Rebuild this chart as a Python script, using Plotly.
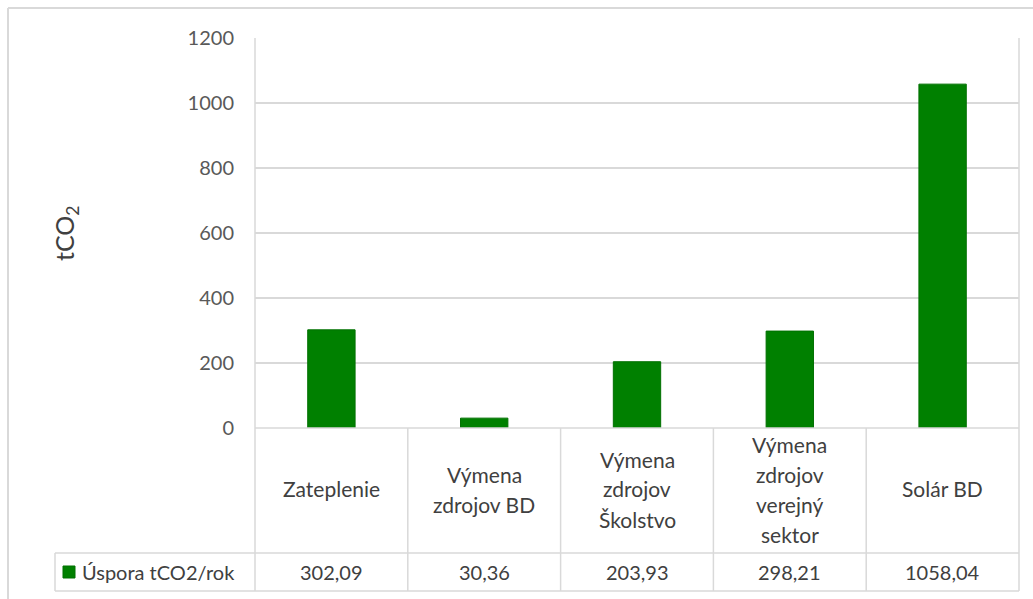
import plotly.graph_objects as go

# Data
categories = ["Zateplenie", "Výmena<br>zdrojov BD", "Výmena<br>zdrojov<br>Školstvo",
              "Výmena<br>zdrojov<br>verejný<br>sektor", "Solár BD"]
values = [302.09, 30.36, 203.93, 298.21, 1058.04]
value_labels = ["302,09", "30,36", "203,93", "298,21", "1058,04"]
series_name = "Úspora tCO2/rok"
y_ticks = [0, 200, 400, 600, 800, 1000, 1200]

BAR_COLOR = "#008000"
GRID = "#d9d9d9"
TXT = "#404040"
TICK_TXT = "#595959"
FONT = "Lato"

W, H = 1033, 599
L, R, T, B = 255, 14, 38, 171
PLOT_H = H - T - B
PLOT_W = W - L - R


def py(pix):
    """pixel row -> paper y"""
    return (H - B - pix) / PLOT_H


def px(pix):
    """pixel column -> paper x"""
    return (pix - L) / PLOT_W


n = len(categories)
xs = list(range(n))

fig = go.Figure(go.Bar(
    x=xs, y=values, width=0.31,
    marker=dict(color=BAR_COLOR, line=dict(color="#007000", width=1)),
    name=series_name, showlegend=False, hoverinfo="skip",
))

shapes = []
annotations = []
line = dict(color=GRID, width=1.5)

row_top = py(H - B)        # y = 0 line
row_mid = py(553)          # between category row and value row
row_bot = py(591)          # bottom of table

# horizontal table lines
shapes.append(dict(type="line", xref="paper", yref="paper", x0=0, x1=1, y0=row_top, y1=row_top, line=line))
for yy in (row_mid, row_bot):
    shapes.append(dict(type="line", xref="paper", yref="paper", x0=px(55), x1=1, y0=yy, y1=yy, line=line))
# vertical table lines between categories
for i in range(1, n):
    shapes.append(dict(type="line", xref="x", yref="paper", x0=i - 0.5, x1=i - 0.5,
                       y0=row_top, y1=row_bot, line=line))
# left and right edges of plot/table
shapes.append(dict(type="line", xref="paper", yref="paper", x0=0, x1=0, y0=1, y1=row_bot, line=line))
shapes.append(dict(type="line", xref="paper", yref="paper", x0=1, x1=1, y0=1, y1=row_bot, line=line))
shapes.append(dict(type="line", xref="paper", yref="paper", x0=px(55), x1=px(55), y0=row_mid, y1=row_bot, line=line))

# outer chart border (top and left)
border = dict(color=GRID, width=2)
shapes.append(dict(type="line", xref="paper", yref="paper", x0=px(8), x1=px(1040), y0=py(8), y1=py(8), line=border))
shapes.append(dict(type="line", xref="paper", yref="paper", x0=px(8), x1=px(8), y0=py(8), y1=py(610), line=border))

# category labels (wrapped, one annotation per line)
LINE_STEP = 30
cat_center = 489
for i, cat in enumerate(categories):
    parts = cat.split("<br>")
    k = len(parts)
    for j, part in enumerate(parts):
        yc = cat_center + (j - (k - 1) / 2) * LINE_STEP
        annotations.append(dict(x=i, y=py(yc), xref="x", yref="paper", text=part,
                                showarrow=False, xanchor="center", yanchor="middle",
                                font=dict(family=FONT, size=21, color=TXT)))

# value row
for i, lab in enumerate(value_labels):
    annotations.append(dict(x=i, y=py(572), xref="x", yref="paper", text=lab,
                            showarrow=False, xanchor="center", yanchor="middle",
                            font=dict(family=FONT, size=20, color=TXT)))

# legend key in table
shapes.append(dict(type="rect", xref="paper", yref="paper", x0=px(63), x1=px(75),
                   y0=py(578), y1=py(566), fillcolor=BAR_COLOR, line=dict(color="#007000", width=1)))
annotations.append(dict(x=px(80), y=py(572), xref="paper", yref="paper", text=series_name,
                        showarrow=False, xanchor="left", yanchor="middle",
                        font=dict(family=FONT, size=20, color=TXT)))

# y-axis title
annotations.append(dict(x=px(66), y=py(234), xref="paper", yref="paper", text="tCO<sub>2</sub>",
                        showarrow=False, textangle=-90, xanchor="center", yanchor="middle",
                        font=dict(family=FONT, size=25, color=TXT)))

fig.update_layout(
    width=W, height=H,
    margin=dict(l=L, r=R, t=T, b=B, autoexpand=False),
    paper_bgcolor="white", plot_bgcolor="white",
    shapes=shapes, annotations=annotations,
    xaxis=dict(range=[-0.5, n - 0.5], showticklabels=False, showgrid=False,
               zeroline=False, showline=False, fixedrange=True),
    yaxis=dict(range=[0, 1200], tickvals=y_ticks, showgrid=True, gridcolor=GRID, gridwidth=1.5,
               zeroline=False, showline=False, ticklabelstandoff=20,
               tickfont=dict(family=FONT, size=20, color=TICK_TXT), fixedrange=True),
    bargap=0.69,
)

fig.write_html("out.html")
